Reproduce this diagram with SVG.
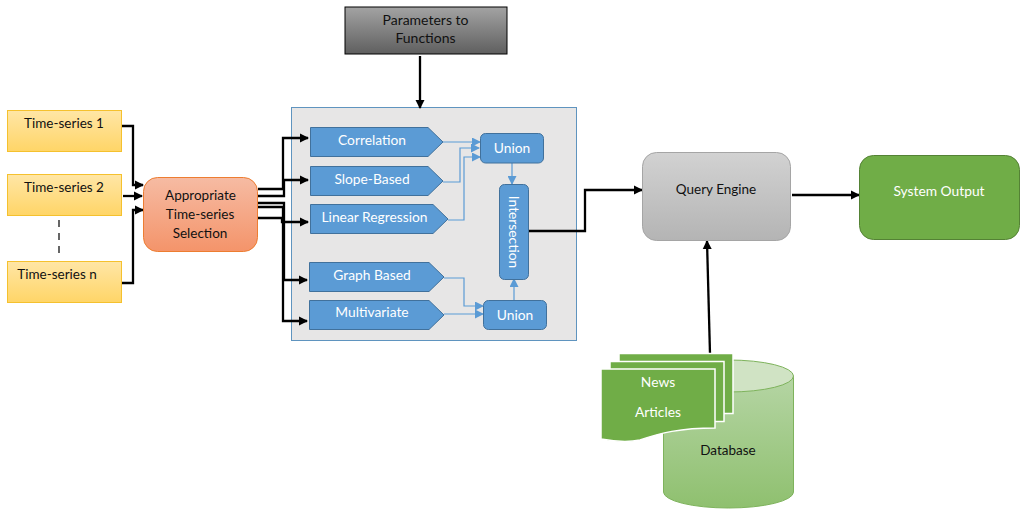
<svg xmlns="http://www.w3.org/2000/svg" width="1027" height="519" viewBox="0 0 1027 519">
<style>
text{font-family:Lato,"Open Sans","Liberation Sans",sans-serif;font-size:13.500px;text-anchor:middle;fill:#111}
.w{fill:#fff;font-size:13.800px}
.p{font-size:14px}
.ts{fill:url(#gy);stroke:#f5c12e;stroke-width:1}
.blk{fill:#5b9bd5;stroke:#41719c;stroke-width:1}
.k{fill:none;stroke:#000;stroke-width:2.300;marker-end:url(#ka)}
.d{fill:none;stroke:#000;stroke-width:1.200;stroke-dasharray:7 6}
.b{fill:none;stroke:#5b9bd5;stroke-width:1.200;marker-end:url(#ba)}
.doc{fill:#70ad47;stroke:#fff;stroke-width:1.500}
</style>
<defs>
<linearGradient id="gy" x1="0" y1="0" x2="0" y2="1"><stop offset="0" stop-color="#ffe6a6"/><stop offset="1" stop-color="#ffd567"/></linearGradient>
<linearGradient id="go" x1="0" y1="0" x2="0" y2="1"><stop offset="0" stop-color="#f6bba3"/><stop offset="1" stop-color="#f4946a"/></linearGradient>
<linearGradient id="gg" x1="0" y1="0" x2="0" y2="1"><stop offset="0" stop-color="#d2d2d2"/><stop offset="1" stop-color="#b4b4b4"/></linearGradient>
<linearGradient id="gp" x1="0" y1="0" x2="0" y2="1"><stop offset="0" stop-color="#a3a3a3"/><stop offset="1" stop-color="#5f5f5f"/></linearGradient>
<linearGradient id="gd" x1="0" y1="0" x2="0" y2="1"><stop offset="0" stop-color="#b5d5a4"/><stop offset="1" stop-color="#8fc06f"/></linearGradient>
<marker id="ka" markerUnits="userSpaceOnUse" markerWidth="9" markerHeight="10" refX="8" refY="5" orient="auto"><path d="M0 0.500L9 5L0 9.500z" fill="#000"/></marker>
<marker id="ba" markerUnits="userSpaceOnUse" markerWidth="9" markerHeight="9" refX="8" refY="4.500" orient="auto"><path d="M0 0L9 4.500L0 9z" fill="#5b9bd5"/></marker>
</defs>

<g id="panel"><rect x="291.500" y="107.500" width="285" height="233" fill="#e7e6e6" stroke="#5f94bf" stroke-width="1"/></g>

<g id="connectors">
<path class="k" d="M121 126H133V185H143"/>
<path class="k" d="M123 196H142"/>
<path class="k" d="M122 283H133V210H143"/>
<path class="k" d="M258 189H283V138H308"/>
<path class="k" d="M258 196H284V180H308"/>
<path class="k" d="M258 218H282V222H308"/>
<path class="k" d="M258 203H284V280H307"/>
<path class="k" d="M258 207H283V321H307"/>
<path class="d" d="M59 220V258"/>
<path class="k" d="M420 56V108"/>
<path class="k" d="M529 231H585V190H642"/>
<path class="k" d="M792 195H859"/>
<path class="k" d="M710 354L707 241"/>
<path class="b" d="M443 142H480"/>
<path class="b" d="M443 182H460V148H479"/>
<path class="b" d="M448 220H464V157H480"/>
<path class="b" d="M444 278H464V306H483"/>
<path class="b" d="M444 314H483"/>
<path class="b" d="M512 163V184"/>
<path class="b" d="M514 300V279"/>
</g>

<g id="ts1"><rect class="ts" x="7.500" y="110.500" width="114" height="41"/><text x="64" y="128">Time-series 1</text></g>
<g id="ts2"><rect class="ts" x="7.500" y="174.500" width="114" height="41"/><text x="64" y="192">Time-series 2</text></g>
<g id="tsn"><rect class="ts" x="7.500" y="261.500" width="114" height="41"/><text x="57" y="279">Time-series n</text></g>
<g id="selection"><rect x="143.500" y="177.500" width="114" height="74" rx="14" fill="url(#go)" stroke="#ed7d31" stroke-width="1"/><text x="200.500" y="200">Appropriate</text><text x="200" y="219">Time-series</text><text x="200" y="238">Selection</text></g>
<g id="params"><rect x="345" y="7" width="162" height="47" fill="url(#gp)" stroke="#000" stroke-width="1"/><text class="p" x="425.500" y="25">Parameters to</text><text class="p" x="425.500" y="43">Functions</text></g>

<g id="correlation"><path class="blk" d="M310.500 127.500H428L443 142L428 156.500H310.500z"/><text class="w" x="372" y="145">Correlation</text></g>
<g id="slope"><path class="blk" d="M310.500 166.500H428L443 181L428 195.500H310.500z"/><text class="w" x="372" y="184">Slope-Based</text></g>
<g id="linear"><path class="blk" d="M310.500 204.500H433L448 219L433 233.500H310.500z"/><text class="w" x="374.500" y="222">Linear Regression</text></g>
<g id="graph"><path class="blk" d="M309.500 262.500H429L444 277L429 291.500H309.500z"/><text class="w" x="372" y="280">Graph Based</text></g>
<g id="multivariate"><path class="blk" d="M309.500 300.500H429L444 315L429 329.500H309.500z"/><text class="w" x="372" y="317">Multivariate</text></g>
<g id="union1"><rect class="blk" x="480.500" y="133.500" width="63" height="29.500" rx="5"/><text class="w" x="512" y="153">Union</text></g>
<g id="union2"><rect class="blk" x="483.500" y="300.500" width="63" height="29" rx="5"/><text class="w" x="515" y="320">Union</text></g>
<g id="intersection"><rect class="blk" x="499.500" y="184.500" width="29" height="95" rx="5"/><text class="w" transform="translate(509 232) rotate(90)">Intersection</text></g>

<g id="query"><rect x="642.500" y="152.500" width="148" height="88" rx="14" fill="url(#gg)" stroke="#a5a5a5" stroke-width="1"/><text x="716" y="194">Query Engine</text></g>
<g id="output"><rect x="859.500" y="155.500" width="160" height="84" rx="14" fill="#70ad47" stroke="#548235" stroke-width="1"/><text class="w" x="939" y="196">System Output</text></g>

<g id="database">
<path d="M663.500 376V492A65 16 0 0 0 793.500 492V376z" fill="url(#gd)" stroke="#7eb35c" stroke-width="1"/>
<ellipse cx="728.500" cy="376" rx="65" ry="16" fill="#d0e3c4" stroke="#7eb35c" stroke-width="1"/>
<text x="728" y="455">Database</text>
</g>
<g id="news">
<rect class="doc" x="619" y="353.500" width="114" height="60"/>
<rect class="doc" x="610" y="361.500" width="114" height="60"/>
<path class="doc" d="M601 369H715V428C680 428 660 433 640 440C625 443 612 441 601 439z"/>
<text class="w" x="658" y="387">News</text>
<text class="w" x="658" y="417">Articles</text>
</g>
</svg>
